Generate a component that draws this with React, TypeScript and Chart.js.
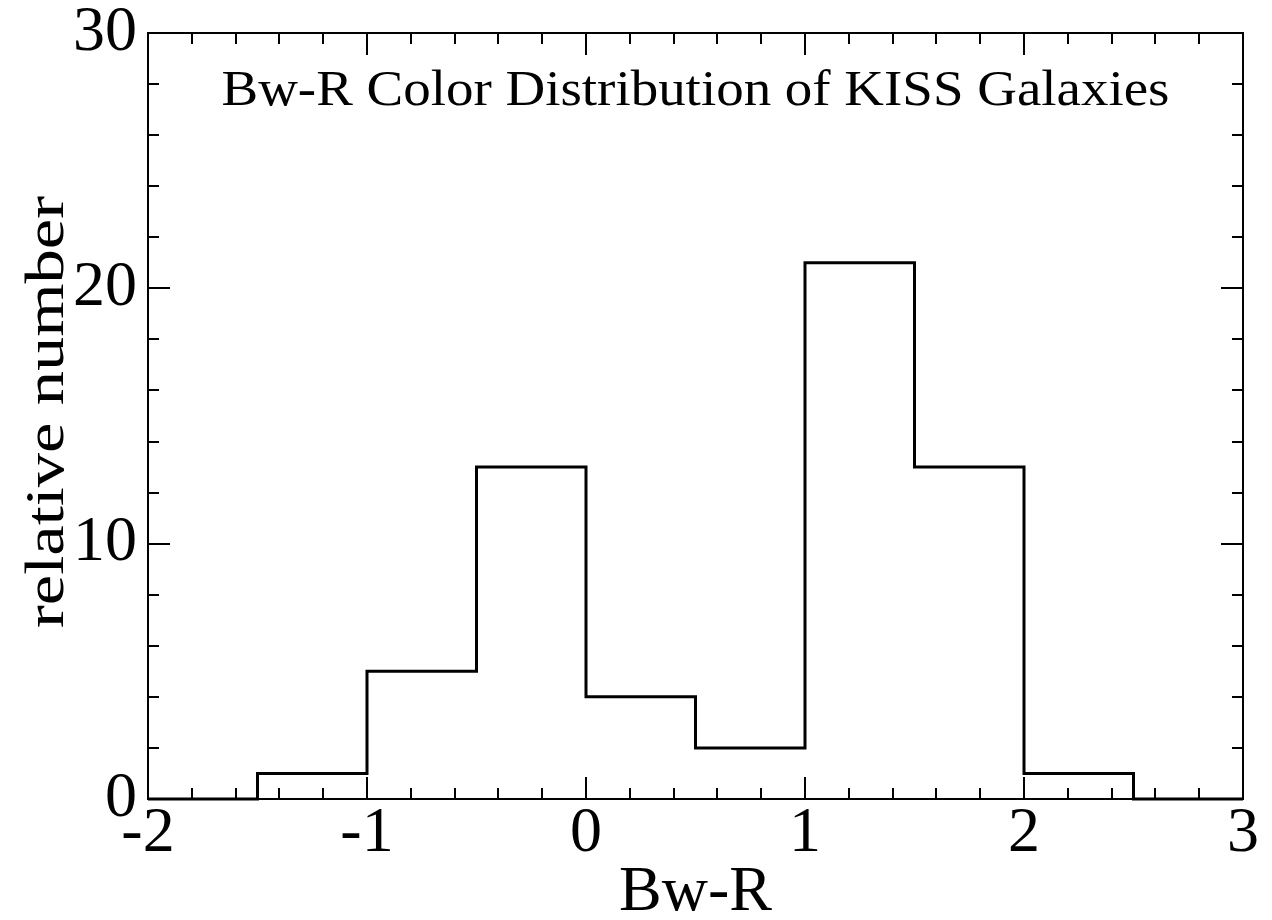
import React, { useEffect, useRef } from 'react';
import { Chart, registerables } from 'chart.js';

Chart.register(...registerables);

// ---- data ----
const binEdges = [-2, -1.5, -1, -0.5, 0, 0.5, 1, 1.5, 2, 2.5, 3];
const counts = [0, 1, 5, 13, 4, 2, 21, 13, 1, 0];
const xTickLabels = ['-2', '-1', '0', '1', '2', '3'];
const yTickLabels = ['0', '10', '20', '30'];
const titleText = 'Bw-R Color Distribution of KISS Galaxies';
const xTitleText = 'Bw-R';
const yTitleText = 'relative number';

const FONT = '"Liberation Serif", "Times New Roman", serif';

const framePlugin = {
  id: 'xmgraceFrame',
  beforeDatasetsDraw(chart: any) {
    const { ctx, chartArea } = chart;
    const xs = chart.scales.x;
    const ys = chart.scales.y;
    const { left, right, top, bottom } = chartArea;
    ctx.save();
    ctx.strokeStyle = '#000';
    ctx.lineWidth = 2;
    ctx.strokeRect(left, top, right - left, bottom - top);
    ctx.beginPath();
    for (let k = 0; k <= 25; k++) {
      const v = -2 + k * 0.2;
      const major = k % 5 === 0;
      const len = major ? 22 : 11;
      const px = Math.round(xs.getPixelForValue(v));
      ctx.moveTo(px, bottom);
      ctx.lineTo(px, bottom - len);
      ctx.moveTo(px, top);
      ctx.lineTo(px, top + len);
    }
    for (let k = 0; k <= 15; k++) {
      const v = k * 2;
      const major = k % 5 === 0;
      const len = major ? 22 : 11;
      const py = Math.round(ys.getPixelForValue(v));
      ctx.moveTo(left, py);
      ctx.lineTo(left + len, py);
      ctx.moveTo(right, py);
      ctx.lineTo(right - len, py);
    }
    ctx.stroke();
    ctx.restore();
  },
  afterDraw(chart: any) {
    const { ctx, chartArea } = chart;
    const { left, right, top, bottom } = chartArea;
    const cx = (left + right) / 2;
    const cy = (top + bottom) / 2;
    ctx.save();
    ctx.fillStyle = '#000';
    ctx.font = `50px ${FONT}`;
    ctx.textAlign = 'center';
    ctx.textBaseline = 'alphabetic';
    const tw = ctx.measureText(titleText).width;
    const tsx = 948 / tw;
    ctx.save();
    ctx.translate(cx, 105);
    ctx.scale(tsx, 1);
    ctx.fillText(titleText, 0, 0);
    ctx.restore();
    ctx.font = `64px ${FONT}`;
    ctx.fillText(xTitleText, cx, 910);
    ctx.font = `54px ${FONT}`;
    const yw = ctx.measureText(yTitleText).width;
    const ysx = 432 / yw;
    ctx.save();
    ctx.translate(63, cy - 4);
    ctx.rotate(-Math.PI / 2);
    ctx.scale(ysx, 1);
    ctx.fillText(yTitleText, 0, 0);
    ctx.restore();
    ctx.restore();
  },
};

export default function App() {
  const canvasRef = useRef<HTMLCanvasElement | null>(null);

  useEffect(() => {
    document.body.style.margin = '0';
    const canvas = canvasRef.current;
    if (!canvas) return;
    const points = binEdges.map((x, i) => ({ x, y: counts[Math.min(i, counts.length - 1)] }));
    const chart = new Chart(canvas, {
      type: 'line',
      data: {
        datasets: [
          {
            data: points,
            stepped: 'before',
            borderColor: '#000',
            borderWidth: 3,
            pointRadius: 0,
            fill: false,
            clip: false,
          } as any,
        ],
      },
      options: {
        responsive: false,
        animation: false,
        devicePixelRatio: 1,
        layout: { padding: { top: 33, right: 29, left: 0, bottom: 0 }, autoPadding: false } as any,
        plugins: {
          legend: { display: false },
          tooltip: { enabled: false },
          title: { display: false },
        },
        scales: {
          x: {
            type: 'linear',
            min: -2,
            max: 3,
            grid: { display: false, drawTicks: false },
            border: { display: false },
            ticks: {
              stepSize: 1,
              autoSkip: false,
              maxRotation: 0,
              padding: 3,
              color: '#000',
              font: { family: FONT, size: 64, lineHeight: 1 },
              callback: (_v: any, i: number) => xTickLabels[i],
            },
            afterFit: (s: any) => {
              s.height = 121;
              s.paddingLeft = 0;
              s.paddingRight = 0;
            },
          },
          y: {
            type: 'linear',
            min: 0,
            max: 30,
            grid: { display: false, drawTicks: false },
            border: { display: false },
            ticks: {
              stepSize: 10,
              padding: 11,
              color: '#000',
              font: { family: FONT, size: 64, lineHeight: 1 },
              callback: (_v: any, i: number) => yTickLabels[i],
            },
            afterFit: (s: any) => {
              s.width = 148;
              s.paddingTop = 0;
              s.paddingBottom = 0;
            },
          },
        },
      } as any,
      plugins: [framePlugin],
    });
    return () => chart.destroy();
  }, []);

  return <canvas ref={canvasRef} width={1272} height={920} style={{ display: 'block' }} />;
}
